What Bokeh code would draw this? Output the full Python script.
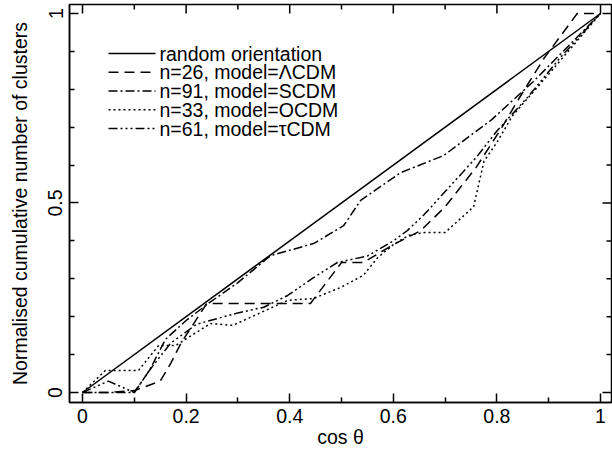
from bokeh.plotting import figure
from bokeh.models import Range1d, LinearAxis, FixedTicker
from bokeh.core.properties import value
from bokeh.embed import file_html
from bokeh.resources import INLINE

# ---- data ----
random_x = [0.0, 1.0]
random_y = [0.0, 1.0]

lcdm_x = [0, 0.05, 0.1, 0.15, 0.17, 0.19, 0.24, 0.44, 0.5, 0.542, 0.6, 0.653, 0.70, 0.76, 0.81, 0.84, 0.89, 0.955, 1.0]
lcdm_y = [0, 0.0, 0.005, 0.03, 0.076, 0.13, 0.235, 0.235, 0.343, 0.343, 0.39, 0.427, 0.49, 0.594, 0.70, 0.77, 0.88, 1.0, 1.0]

scdm_x = [0, 0.1, 0.13, 0.16, 0.2, 0.24, 0.3, 0.363, 0.446, 0.504, 0.537, 0.614, 0.697, 0.79, 0.87, 1.0]
scdm_y = [0, 0.0, 0.06, 0.14, 0.19, 0.232, 0.29, 0.361, 0.393, 0.44, 0.507, 0.58, 0.625, 0.72, 0.82, 1.0]

ocdm_x = [0, 0.044, 0.108, 0.147, 0.18, 0.247, 0.29, 0.396, 0.446, 0.498, 0.542, 0.57, 0.6, 0.63, 0.66, 0.70, 0.755, 0.775, 0.80, 0.83, 0.9, 1.0]
ocdm_y = [0, 0.058, 0.058, 0.124, 0.124, 0.182, 0.177, 0.243, 0.248, 0.277, 0.309, 0.356, 0.39, 0.415, 0.422, 0.422, 0.49, 0.61, 0.66, 0.73, 0.84, 1.0]

tcdm_x = [0, 0.05, 0.1, 0.13, 0.17, 0.22, 0.3, 0.35, 0.396, 0.446, 0.492, 0.55, 0.6, 0.627, 0.66, 0.70, 0.76, 0.80, 0.86, 0.92, 1.0]
tcdm_y = [0, 0.03, 0.0, 0.06, 0.13, 0.18, 0.21, 0.225, 0.256, 0.303, 0.343, 0.36, 0.40, 0.427, 0.47, 0.53, 0.62, 0.69, 0.78, 0.88, 1.0]

labels = ["random orientation",
          "n=26, model=\u039bCDM",
          "n=91, model=SCDM",
          "n=33, model=OCDM",
          "n=61, model=\u03c4CDM"]

x_major = [0, 0.2, 0.4, 0.6, 0.8, 1.0]
x_minor = [0.1, 0.3, 0.5, 0.7, 0.9]
y_major = [0, 0.5, 1.0]
y_minor = [0.1, 0.2, 0.3, 0.4, 0.6, 0.7, 0.8, 0.9]

FONT = "Liberation Sans"
FS = "19.5px"

W, H = 612, 454
BL, BR, BT, BB = 69, 1, 4, 52
FW, FH = W - BL - BR, H - BT - BB  # frame size in px

p = figure(width=W, height=H, output_backend="svg", toolbar_location=None,
           x_range=Range1d(-0.0251, 1.0212), y_range=Range1d(-0.0264, 1.0237),
           x_axis_location=None, y_axis_location=None,
           min_border_left=BL, min_border_right=BR, min_border_top=BT, min_border_bottom=BB)
p.grid.visible = False
p.outline_line_color = "black"
p.outline_line_width = 1.5
p.background_fill_color = "white"
p.border_fill_color = "white"
# pixel-like helper ranges for the mirrored ticks and the key
p.extra_x_ranges = {"px": Range1d(0, FW)}
p.extra_y_ranges = {"py": Range1d(0, FH)}

def make_axis(ticks, minor):
    ax = LinearAxis(ticker=FixedTicker(ticks=ticks, minor_ticks=minor))
    ax.major_tick_in = 9
    ax.major_tick_out = 0
    ax.minor_tick_in = 5
    ax.minor_tick_out = 0
    ax.major_tick_line_width = 1.5
    ax.minor_tick_line_width = 1.5
    ax.axis_line_width = 1.5
    ax.major_label_text_font = FONT
    ax.major_label_text_color = "black"
    ax.major_label_text_font_size = FS
    ax.axis_label_text_font = FONT
    ax.axis_label_text_font_style = "normal"
    ax.axis_label_text_color = "black"
    ax.axis_label_text_font_size = FS
    return ax

xb = make_axis(x_major, x_minor)
xb.major_label_standoff = 6
xb.axis_label = "cos \u03b8"
xb.axis_label_standoff = 0
p.add_layout(xb, "below")

yl = make_axis(y_major, y_minor)
yl.major_label_orientation = "vertical"
yl.major_label_standoff = 7
yl.axis_label = "Normalised cumulative number of clusters"
yl.axis_label_standoff = 15
p.add_layout(yl, "left")

# mirrored inward ticks on top and right edges (positions from the tick lists)
p.segment(x0=x_major, x1=x_major, y0=[FH - 9] * len(x_major), y1=[FH] * len(x_major),
          y_range_name="py", line_color="black", line_width=1.5)
p.segment(x0=x_minor, x1=x_minor, y0=[FH - 5] * len(x_minor), y1=[FH] * len(x_minor),
          y_range_name="py", line_color="black", line_width=1.5)
p.segment(x0=[FW - 9] * len(y_major), x1=[FW] * len(y_major), y0=y_major, y1=y_major,
          x_range_name="px", line_color="black", line_width=1.5)
p.segment(x0=[FW - 5] * len(y_minor), x1=[FW] * len(y_minor), y0=y_minor, y1=y_minor,
          x_range_name="px", line_color="black", line_width=1.5)

lw = 1.5
dashes = ["solid", "10 6", "9 3 2 3", "2 3", "9 3 2 3 2 3 2 3"]
series = [(random_x, random_y), (lcdm_x, lcdm_y), (scdm_x, scdm_y),
          (ocdm_x, ocdm_y), (tcdm_x, tcdm_y)]
for (xs, ys), d in zip(series, dashes):
    p.line(xs, ys, line_color="black", line_width=lw, line_dash=d)

# key (top-left), laid out in frame pixels
KX0, KX1, KT = 39, 86, 402 - 53
ROW = 18.75
for i, (lab, d) in enumerate(zip(labels, dashes)):
    yy = KT - i * ROW
    p.line([KX0, KX1], [yy, yy], x_range_name="px", y_range_name="py",
           line_color="black", line_width=lw, line_dash=d)
    p.text(x=[KX1 + 4], y=[yy], text=[lab], x_range_name="px", y_range_name="py",
           text_font=value(FONT), text_font_size=FS, text_baseline="middle",
           text_align="left", text_color="black")

open("out.html", "w").write(file_html(p, INLINE))
